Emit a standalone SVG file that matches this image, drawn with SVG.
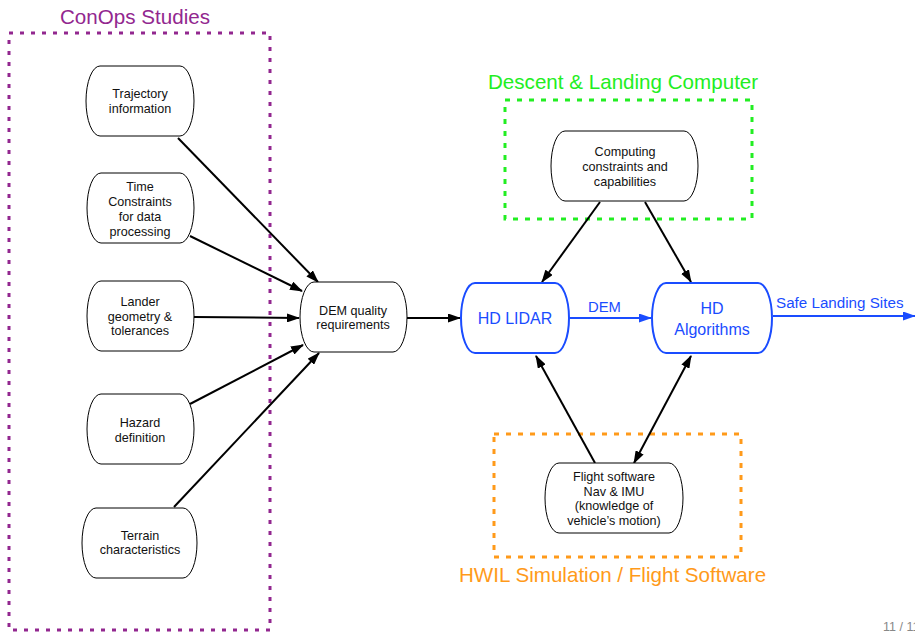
<svg xmlns="http://www.w3.org/2000/svg" width="915" height="632" viewBox="0 0 915 632">
<defs>
<marker id="ah" markerUnits="userSpaceOnUse" markerWidth="13" markerHeight="9" refX="12" refY="4.5" orient="auto-start-reverse" viewBox="0 0 13 9">
<path d="M0,0 L13,4.5 L0,9 z" fill="#000"/>
</marker>
<marker id="ahb" markerUnits="userSpaceOnUse" markerWidth="13" markerHeight="9" refX="12" refY="4.5" orient="auto" viewBox="0 0 13 9">
<path d="M0,0 L13,4.5 L0,9 z" fill="#1a4cff"/>
</marker>
</defs>
<style>
text{font-family:"Liberation Sans",Arial,sans-serif;}
.n{fill:#fff;stroke:#000;stroke-width:1;}
.nb{fill:#fff;stroke:#1a4cff;stroke-width:2;}
.t{font-size:12.6px;fill:#111;text-anchor:middle;}
.tb{font-size:16px;fill:#1a4cff;text-anchor:middle;}
.c{stroke:#000;stroke-width:2;fill:none;marker-end:url(#ah);}
.cb{stroke:#1a4cff;stroke-width:2;fill:none;marker-end:url(#ahb);}
.g{fill:none;stroke-width:3;}
.gt{font-size:20.6px;}
</style>
<rect width="915" height="632" fill="#fff"/>
<g id="groups">
<rect class="g" x="9" y="33" width="261" height="597" stroke="#92278f" stroke-dasharray="4 7"/>
<text class="gt" x="60" y="24" fill="#92278f">ConOps Studies</text>
<rect class="g" x="505" y="100" width="247" height="119" stroke="#22ee22" stroke-dasharray="5 7"/>
<text class="gt" x="488" y="89" fill="#22ee22">Descent &amp; Landing Computer</text>
<rect class="g" x="494" y="434" width="247" height="123" stroke="#ff9a1a" stroke-dasharray="5 7"/>
<text class="gt" x="459" y="582" fill="#ff9a1a">HWIL Simulation / Flight Software</text>
</g>
<g id="connectors">
<line class="c" x1="178" y1="138" x2="318" y2="282"/>
<line class="c" x1="190" y1="236" x2="302" y2="291"/>
<line class="c" x1="194" y1="317" x2="299" y2="318"/>
<line class="c" x1="190" y1="404" x2="303" y2="345"/>
<line class="c" x1="174" y1="507" x2="319" y2="353"/>
<line class="c" x1="407" y1="318" x2="460" y2="318"/>
<line class="c" x1="600" y1="202" x2="542" y2="282"/>
<line class="c" x1="645" y1="202" x2="691" y2="282"/>
<line class="c" x1="595" y1="463" x2="536" y2="356"/>
<line class="c" x1="634" y1="463" x2="691" y2="356" style="marker-start:url(#ah)"/>
<line class="cb" x1="569" y1="318" x2="651" y2="318"/>
<line class="cb" x1="773" y1="316" x2="915" y2="316"/>
<text x="588" y="312" font-size="14.8" fill="#1a4cff">DEM</text>
<text x="776" y="308" font-size="15.2" fill="#1a4cff">Safe Landing Sites</text>
</g>
<g id="n-trajectory">
<rect class="n" x="86" y="66" width="108" height="70" rx="14" ry="35"/>
<text class="t" x="140" y="98">Trajectory</text>
<text class="t" x="140" y="113">information</text>
</g>
<g id="n-time">
<rect class="n" x="87" y="173" width="107" height="70" rx="14" ry="35"/>
<text class="t" x="140" y="191">Time</text>
<text class="t" x="140" y="206">Constraints</text>
<text class="t" x="140" y="221">for data</text>
<text class="t" x="140" y="236">processing</text>
</g>
<g id="n-lander">
<rect class="n" x="87" y="281" width="107" height="70" rx="14" ry="35"/>
<text class="t" x="140" y="306">Lander</text>
<text class="t" x="140" y="321">geometry &amp;</text>
<text class="t" x="140" y="335">tolerances</text>
</g>
<g id="n-hazard">
<rect class="n" x="87" y="394" width="107" height="70" rx="14" ry="35"/>
<text class="t" x="140" y="427">Hazard</text>
<text class="t" x="140" y="442">definition</text>
</g>
<g id="n-terrain">
<rect class="n" x="82" y="508" width="115" height="70" rx="14" ry="35"/>
<text class="t" x="140" y="540">Terrain</text>
<text class="t" x="140" y="554">characteristics</text>
</g>
<g id="n-dem">
<rect class="n" x="300" y="282" width="107" height="70" rx="14" ry="35"/>
<text class="t" x="353" y="315">DEM quality</text>
<text class="t" x="353" y="329">requirements</text>
</g>
<g id="n-lidar">
<rect class="nb" x="461" y="283" width="108" height="70" rx="14" ry="35"/>
<text class="tb" x="515" y="324">HD LIDAR</text>
</g>
<g id="n-algorithms">
<rect class="nb" x="652" y="283" width="120" height="70" rx="14" ry="35"/>
<text class="tb" x="712" y="314">HD</text>
<text class="tb" x="712" y="335">Algorithms</text>
</g>
<g id="n-computing">
<rect class="n" x="551" y="131" width="147" height="70" rx="14" ry="35"/>
<text class="t" x="625" y="156">Computing</text>
<text class="t" x="625" y="171">constraints and</text>
<text class="t" x="625" y="186">capabilities</text>
</g>
<g id="n-flight">
<rect class="n" x="545" y="463" width="138" height="70" rx="14" ry="35"/>
<text class="t" x="614" y="481">Flight software</text>
<text class="t" x="614" y="496">Nav &amp; IMU</text>
<text class="t" x="614" y="510">(knowledge of</text>
<text class="t" x="614" y="525">vehicle’s motion)</text>
</g>
<text x="883" y="631" font-size="12.5" fill="#888">11 / 11</text>
</svg>
